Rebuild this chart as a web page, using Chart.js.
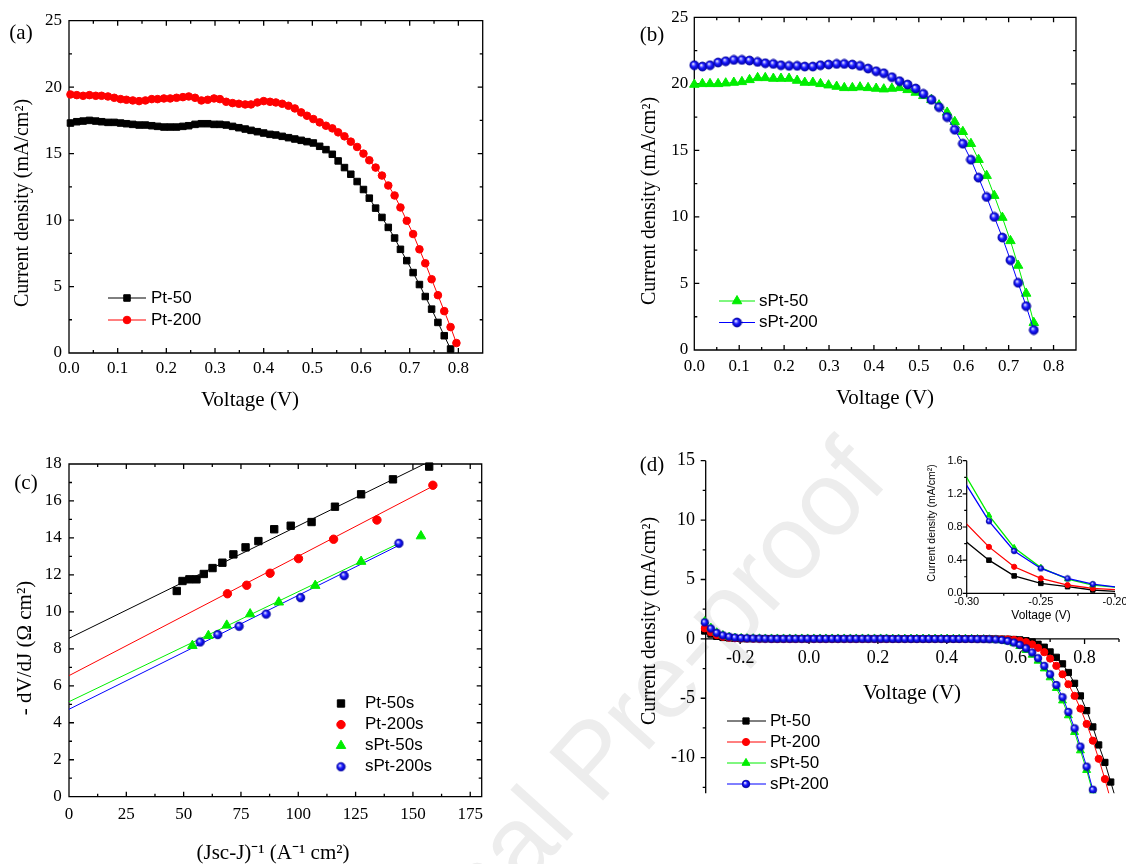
<!DOCTYPE html>
<html><head><meta charset="utf-8">
<script src="https://cdn.jsdelivr.net/npm/chart.js@4.4.1/dist/chart.umd.min.js"></script>
<style>
html,body{margin:0;padding:0;background:#fff;}
#wrap{position:relative;width:1126px;height:864px;overflow:hidden;background:#fff;}
canvas{position:absolute;}
#wm{position:absolute;left:592px;top:759px;transform:translate(-50%,-50%) rotate(-48deg);font-family:"Liberation Sans",Arial,sans-serif;font-size:105px;color:#ededed;white-space:nowrap;}
</style></head>
<body><div id="wrap">
<div id="wm">Journal Pre-proof</div>
<canvas id="ca" width="560" height="430" style="left:0px;top:0px"></canvas>
<canvas id="cb" width="506" height="430" style="left:620px;top:0px"></canvas>
<canvas id="cc" width="560" height="434" style="left:0px;top:430px"></canvas>
<canvas id="cd" width="506" height="424" style="left:620px;top:440px"></canvas>
<canvas id="ci" width="206" height="180" style="left:920px;top:450px"></canvas>
</div>
<script>
// ---------------- DATA ----------------
// (a) J-V curves, Pt electrodes
const vA = [0.003,0.016,0.029,0.042,0.055,0.067,0.080,0.093,0.106,0.118,0.131,0.144,0.157,0.170,0.182,0.195,0.208,0.221,0.234,0.246,0.259,0.272,0.285,0.298,0.310,0.323,0.336,0.349,0.362,0.374,0.387,0.400,0.413,0.425,0.438,0.451,0.464,0.477,0.489,0.502,0.515,0.528,0.541,0.553,0.566,0.579,0.592,0.605,0.617,0.630,0.643,0.656,0.669,0.681,0.694,0.707,0.720,0.732,0.745,0.758,0.771,0.784,0.796];
const jPt50 = [17.3,17.4,17.45,17.5,17.45,17.4,17.35,17.35,17.3,17.25,17.2,17.15,17.15,17.1,17.05,17.0,17.0,17.0,17.05,17.1,17.2,17.25,17.25,17.2,17.2,17.15,17.05,16.95,16.85,16.75,16.65,16.55,16.45,16.4,16.3,16.2,16.1,16.0,15.9,15.8,15.55,15.3,14.95,14.45,13.95,13.45,12.9,12.3,11.65,10.9,10.2,9.45,8.65,7.8,6.95,6.05,5.15,4.25,3.3,2.3,1.3,0.3];
const jPt200 = [19.45,19.4,19.35,19.4,19.35,19.35,19.3,19.2,19.1,19.05,19.0,18.95,19.0,19.1,19.1,19.15,19.15,19.2,19.25,19.3,19.2,19.0,19.05,19.15,19.1,18.9,18.8,18.75,18.7,18.7,18.85,18.95,18.9,18.85,18.75,18.6,18.4,18.1,17.85,17.6,17.35,17.1,16.9,16.6,16.3,15.9,15.5,15.0,14.5,13.95,13.35,12.6,11.85,10.95,9.95,8.95,7.8,6.75,5.55,4.35,3.15,1.95,0.75];
// (b) J-V curves, sPt electrodes
const vB = [0.000,0.018,0.035,0.053,0.070,0.088,0.106,0.123,0.141,0.158,0.176,0.193,0.211,0.229,0.246,0.264,0.281,0.299,0.317,0.334,0.352,0.369,0.387,0.405,0.422,0.440,0.457,0.475,0.493,0.510,0.528,0.545,0.563,0.580,0.598,0.616,0.633,0.651,0.668,0.686,0.704,0.721,0.739,0.756];
const jSPt50 = [19.95,20.0,20.0,20.0,20.05,20.1,20.15,20.3,20.45,20.45,20.4,20.4,20.4,20.25,20.1,20.1,20.0,19.9,19.8,19.7,19.7,19.75,19.7,19.65,19.6,19.65,19.7,19.55,19.35,19.1,18.8,18.4,17.85,17.15,16.4,15.5,14.3,13.1,11.6,9.95,8.2,6.35,4.25,2.05];
const jSPt200 = [21.4,21.3,21.4,21.6,21.7,21.8,21.8,21.75,21.65,21.55,21.5,21.4,21.35,21.35,21.3,21.3,21.4,21.45,21.5,21.5,21.45,21.35,21.15,20.95,20.8,20.5,20.2,19.95,19.65,19.25,18.8,18.25,17.5,16.55,15.5,14.3,12.95,11.5,10.0,8.45,6.75,5.05,3.3,1.5];
// (c) -dV/dJ vs (Jsc-J)^-1
const cPt50X = [47.0,49.5,52.5,55.6,58.8,62.6,66.9,71.7,77.0,82.6,89.5,96.7,105.8,116.0,127.4,141.3,157.1];
const cPt50Y = [11.13,11.67,11.76,11.76,12.05,12.37,12.66,13.11,13.49,13.83,14.47,14.66,14.86,15.69,16.36,17.17,17.86];
const cPt200X = [69.1,77.5,87.7,100.1,115.4,134.3,158.7];
const cPt200Y = [10.98,11.44,12.09,12.88,13.93,14.97,16.85];
const cSPt50X = [53.8,60.8,68.8,79.0,91.5,107.4,127.4,153.5];
const cSPt50Y = [8.17,8.71,9.27,9.88,10.52,11.42,12.72,14.1];
const cSPt200X = [57.2,64.9,74.2,86.0,101.0,120.0,143.9];
const cSPt200Y = [8.37,8.77,9.22,9.88,10.77,11.96,13.71];
// (c) linear fits (end points)
const fitPt50X = [0,157.1],  fitPt50Y = [8.57,18.13];
const fitPt200X = [0,158.7], fitPt200Y = [6.55,16.8];
const fitSPt50X = [0,145],   fitSPt50Y = [5.14,13.77];
const fitSPt200X = [0,143.9],fitSPt200Y = [4.73,13.6];
// (d) dark J-V curves
const vD = [-0.303,-0.285,-0.268,-0.250,-0.232,-0.215,-0.197,-0.180,-0.162,-0.144,-0.127,-0.109,-0.092,-0.074,-0.056,-0.039,-0.021,-0.004,0.014,0.032,0.049,0.067,0.084,0.102,0.120,0.137,0.155,0.172,0.190,0.208,0.225,0.243,0.260,0.278,0.296,0.313,0.331,0.348,0.366,0.384,0.401,0.419,0.436,0.454,0.472,0.489,0.507,0.524,0.542,0.560,0.577,0.595,0.612,0.630,0.648,0.665,0.683,0.700,0.718,0.736,0.753,0.771,0.788,0.806,0.824,0.841,0.859,0.876,0.894];
const dPt50 = [0.66,0.40,0.21,0.12,0.08,0.04,0.02,0.01,0.01,0.01,0.01,
 0,0,0,0,0,0,0,0,0,0, 0,0,0,0,0,0,0,0,0,0, 0,0,0,0,0,0,0,0,0,0, 0,0,0,0,0,0,0,
 -0.01,-0.02,-0.03,-0.05,-0.08,-0.15,-0.26,-0.45,-0.7,-1.1,-1.55,-2.1,-2.83,-3.74,-4.8,-6.04,-7.41,-8.93,-10.4,-12.05,-13.8];
const dPt200 = [0.89,0.56,0.32,0.18,0.10,0.06,0.04,0.03,0.02,0.01,0.01,
 0,0,0,0,0,0,0,0,0,0, 0,0,0,0,0,0,0,0,0,0, 0,0,0,0,0,0,0,0,0,0, 0,0,0,0,0,0,
 -0.01,-0.02,-0.03,-0.04,-0.08,-0.16,-0.28,-0.47,-0.75,-1.12,-1.66,-2.27,-2.98,-3.82,-4.8,-5.87,-7.16,-8.57,-10.1,-11.8,-13.6];
const dSPt50 = [1.49,0.94,0.55,0.31,0.17,0.10,0.07,0.05,0.04,0.04,0.03,
 0.03,0.03,0.03,0.03,0.03,0.03,0.03,0.03,0.03,0.03, 0.03,0.03,0.03,0.03,0.03,0.03,0.03,0.03,0.03,0.03,
 0.02,0.02,0.02,0.02,0.02,0.02,0.02,0.02,0.02,0.02, 0.01,0.01,0.01,
 0,-0.02,-0.03,-0.05,-0.08,-0.13,-0.22,-0.38,-0.62,-0.95,-1.35,-1.85,-2.5,-3.25,-4.15,-5.2,-6.45,-7.85,-9.4,-11.05,-12.95,-14.9];
const dSPt200 = [1.39,0.87,0.51,0.30,0.18,0.11,0.07,0.05,0.04,0.03,0.02,
 0.01,0.01,0.01,0.01,0.01,0.01,0.01,0.01,0.01,0.01, 0.01,0.01,0.01,0.01,0.01,0.01,0.01,0.01,0.01,0.01,
 0,0,0,0,0,0,0,0,0, -0.01,-0.01,-0.01,-0.01,-0.01,
 -0.02,-0.02,-0.03,-0.05,-0.09,-0.17,-0.31,-0.5,-0.79,-1.15,-1.63,-2.27,-2.98,-3.88,-4.91,-6.15,-7.53,-9.07,-10.75,-12.7,-14.7];
// tick labels
const xTicksA = [0,0.1,0.2,0.3,0.4,0.5,0.6,0.7,0.8];
const yTicksA = [0,5,10,15,20,25];
const xTicksC = [0,25,50,75,100,125,150,175];
const yTicksC = [0,2,4,6,8,10,12,14,16,18];
const xTicksD = [-0.2,0,0.2,0.4,0.6,0.8];
const yTicksD = [-10,-5,0,5,10,15];
const xTicksIn = [-0.3,-0.25,-0.2];
const yTicksIn = [0,0.4,0.8,1.2,1.6];
// series names
const namesJV = ['Pt-50','Pt-200','sPt-50','sPt-200'];
const namesC = ['Pt-50s','Pt-200s','sPt-50s','sPt-200s'];

// ---------------- HELPERS ----------------
const SERIF = '"Liberation Serif","Times New Roman",serif';
const SANS = '"Liberation Sans",Arial,sans-serif';
Chart.defaults.font.family = SERIF;
Chart.defaults.color = '#000';
const GREEN = '#00ee00', BLUE = '#0000ff', RED = '#ff0000', BLACK = '#000000';

function pts(xs, ys){ return ys.map((y,i)=>({x:xs[i], y:y})); }
function minors(major, min, max){
  const st = major[1]-major[0], out=[];
  for (let v = major[0]-st/2; v <= max+1e-9; v += st) if (v >= min-1e-9) out.push(+v.toFixed(6));
  return out;
}
function sphere(r){
  const s = Math.ceil(2*r+2), c = document.createElement('canvas');
  c.width = s; c.height = s;
  const g = c.getContext('2d'), cx = s/2, cy = s/2;
  const grd = g.createRadialGradient(cx-r*0.3, cy-r*0.35, r*0.05, cx, cy, r);
  grd.addColorStop(0,'#ffffff'); grd.addColorStop(0.22,'#9090ff'); grd.addColorStop(0.5,'#1a1aff'); grd.addColorStop(1,'#0000b0');
  g.fillStyle = grd; g.beginPath(); g.arc(cx,cy,r,0,Math.PI*2); g.fill();
  g.strokeStyle = '#0000a0'; g.lineWidth = 0.8; g.stroke();
  return c;
}
function ds(label, data, style, color, r, opts){
  return Object.assign({
    label: label, data: data, borderColor: color, backgroundColor: color,
    pointBackgroundColor: color, pointBorderColor: color, pointBorderWidth: 1,
    pointStyle: style, pointRadius: r, borderWidth: 1, showLine: true, tension: 0, clip: false
  }, opts||{});
}
function xScale(o){
  return {
    type:'linear', position: o.position||'bottom', min:o.min, max:o.max,
    grid:{display:false, drawTicks:false}, border:{display:false},
    ticks:{padding:o.pad, font:o.font, color:'#000', maxRotation:0, autoSkip:false, callback:o.fmt},
    afterBuildTicks: sc => { sc.ticks = o.ticks.map(v=>({value:v})); },
    afterFit: sc => { sc.height = o.h; sc.paddingLeft = 0; sc.paddingRight = 0; },
    title:{display:false}
  };
}
function yScale(o){
  return {
    type:'linear', position:'left', min:o.min, max:o.max,
    grid:{display:false, drawTicks:false}, border:{display:false},
    ticks:{padding:o.pad, font:o.font, color:'#000', autoSkip:false, callback:o.fmt},
    afterBuildTicks: sc => { sc.ticks = o.ticks.map(v=>({value:v})); },
    afterFit: sc => { sc.width = o.w; sc.paddingTop = 0; sc.paddingBottom = 0; },
    title:{display:false}
  };
}
function drawMarker(ctx, d, x, y){
  const st = d.pointStyle, r = d.pointRadius;
  ctx.save();
  ctx.fillStyle = d.pointBackgroundColor; ctx.strokeStyle = d.pointBorderColor; ctx.lineWidth = d.pointBorderWidth;
  if (st instanceof HTMLCanvasElement) { ctx.drawImage(st, x-st.width/2, y-st.height/2); }
  else if (st === 'rect') { const s = r*Math.SQRT1_2; ctx.beginPath(); ctx.rect(x-s,y-s,2*s,2*s); ctx.fill(); ctx.stroke(); }
  else if (st === 'triangle') { ctx.beginPath(); ctx.moveTo(x, y-r); ctx.lineTo(x+0.866*r, y+0.5*r); ctx.lineTo(x-0.866*r, y+0.5*r); ctx.closePath(); ctx.fill(); ctx.stroke(); }
  else { ctx.beginPath(); ctx.arc(x,y,r,0,Math.PI*2); ctx.fill(); ctx.stroke(); }
  ctx.restore();
}

// per-canvas extra drawing configuration (page coordinates)
const EXTRA = {};

const framePlug = {
  id:'frameTicks',
  beforeDatasetsDraw(chart){
    const cfg = EXTRA[chart.canvas.id]; if (!cfg || !cfg.frame) return;
    const f = cfg.frame, ctx = chart.ctx, a = chart.chartArea, xs = chart.scales.x, ys = chart.scales.y;
    const L=a.left, R=a.right, T=a.top, B=a.bottom;
    ctx.save(); ctx.strokeStyle = '#000'; ctx.lineWidth = f.lw;
    ctx.beginPath();
    const y0 = (f.xAt !== undefined) ? ys.getPixelForValue(f.xAt) : B;
    if (f.box) { ctx.rect(L,T,R-L,B-T); }
    else { ctx.moveTo(L,T); ctx.lineTo(L,B); ctx.moveTo(L,y0); ctx.lineTo(R,y0); }
    const xm = [[f.xMajor,f.maj],[f.xMinor,f.min]], ym = [[f.yMajor,f.maj],[f.yMinor,f.min]];
    for (const [vals,len] of xm) for (const v of vals) {
      const p = xs.getPixelForValue(v);
      if (f.box) { ctx.moveTo(p,B); ctx.lineTo(p,B-len); ctx.moveTo(p,T); ctx.lineTo(p,T+len); }
      else { ctx.moveTo(p,y0); ctx.lineTo(p,y0+len); }
    }
    for (const [vals,len] of ym) for (const v of vals) {
      const p = ys.getPixelForValue(v);
      if (f.box) { ctx.moveTo(L,p); ctx.lineTo(L+len,p); ctx.moveTo(R,p); ctx.lineTo(R-len,p); }
      else { ctx.moveTo(L,p); ctx.lineTo(L-len,p); }
    }
    ctx.stroke(); ctx.restore();
  }
};
const extraPlug = {
  id:'extraText',
  afterDraw(chart){
    const cfg = EXTRA[chart.canvas.id]; if (!cfg) return;
    const ctx = chart.ctx, ox = cfg.ox, oy = cfg.oy;
    if (cfg.legend) {
      const g = cfg.legend;
      ctx.save(); ctx.font = g.font; ctx.textBaseline = 'middle'; ctx.textAlign = 'left';
      g.items.forEach((di, i) => {
        const d = chart.data.datasets[di], y = g.y + i*g.dy - oy;
        if (g.line) { ctx.strokeStyle = d.borderColor; ctx.lineWidth = d.borderWidth; ctx.beginPath(); ctx.moveTo(g.x0-ox, y); ctx.lineTo(g.x1-ox, y); ctx.stroke(); }
        drawMarker(ctx, d, g.mx-ox, y);
        ctx.fillStyle = '#000'; ctx.fillText(d.label, g.tx-ox, y);
      });
      ctx.restore();
    }
    (cfg.texts||[]).forEach(t => {
      ctx.save(); ctx.font = t.font; ctx.fillStyle = '#000'; ctx.textAlign = 'center'; ctx.textBaseline = 'middle';
      ctx.translate(t.x-ox, t.y-oy); if (t.rot) ctx.rotate(t.rot);
      ctx.fillText(t.text, 0, 0); ctx.restore();
    });
  }
};
Chart.register(framePlug, extraPlug);

const F17 = {family:SERIF, size:17};
const F18 = {family:SERIF, size:18};
const TF = '21px ' + SERIF, TFY = '20px ' + SERIF;
const LF = '17px ' + SANS;
const ROT = -Math.PI/2;
const base = {responsive:false, animation:false, devicePixelRatio:1, events:[],
  plugins:{legend:{display:false}, tooltip:{enabled:false}}};

// ---------------- (a) ----------------
EXTRA.ca = { ox:0, oy:0,
  frame:{box:true, lw:1.3, maj:5, min:3, xMajor:xTicksA, xMinor:minors(xTicksA,0,0.85), yMajor:yTicksA, yMinor:minors(yTicksA,0,25)},
  legend:{font:LF, line:true, x0:108, x1:146, mx:127, tx:151, y:298, dy:22, items:[0,1]},
  texts:[{text:'(a)', x:21, y:33, font:TF},
         {text:'Voltage (V)', x:250, y:400, font:TF},
         {text:'Current density (mA/cm\u00B2)', x:23, y:203, rot:ROT, font:TFY}]
};
new Chart(document.getElementById('ca'), {type:'line',
  data:{datasets:[
    ds(namesJV[0], pts(vA,jPt50), 'rect', BLACK, 4.6, {order:0}),
    ds(namesJV[1], pts(vA,jPt200), 'circle', RED, 3.8, {order:-1})
  ]},
  options:Object.assign({}, base, {
    layout:{padding:{top:20.7, right:77.3, left:0, bottom:0}},
    scales:{
      x: xScale({min:0, max:0.85, ticks:xTicksA, pad:5, font:F17, h:77, fmt:v=>v.toFixed(1)}),
      y: yScale({min:0, max:25, ticks:yTicksA, pad:7, font:F17, w:69, fmt:v=>String(v)})
    }})
});

// ---------------- (b) ----------------
const sphB = sphere(4.5);
EXTRA.cb = { ox:620, oy:0,
  frame:{box:true, lw:1.3, maj:5, min:3, xMajor:xTicksA, xMinor:minors(xTicksA,0,0.85), yMajor:yTicksA, yMinor:minors(yTicksA,0,25)},
  legend:{font:LF, line:true, x0:719, x1:755, mx:737, tx:759, y:301, dy:21.5, items:[0,1]},
  texts:[{text:'(b)', x:652, y:35, font:TF},
         {text:'Voltage (V)', x:885, y:398, font:TF},
         {text:'Current density (mA/cm\u00B2)', x:650, y:201, rot:ROT, font:TFY}]
};
new Chart(document.getElementById('cb'), {type:'line',
  data:{datasets:[
    ds(namesJV[2], pts(vB,jSPt50), 'triangle', GREEN, 5.5, {order:0}),
    ds(namesJV[3], pts(vB,jSPt200), sphB, BLUE, 4.5, {order:-1})
  ]},
  options:Object.assign({}, base, {
    layout:{padding:{top:17.3, right:50, left:0, bottom:0}},
    scales:{
      x: xScale({min:0, max:0.85, ticks:xTicksA, pad:6.5, font:F17, h:80, fmt:v=>v.toFixed(1)}),
      y: yScale({min:0, max:25, ticks:yTicksA, pad:6, font:F17, w:74.3, fmt:v=>String(v)})
    }})
});

// ---------------- (c) ----------------
const sphC = sphere(4.2);
EXTRA.cc = { ox:0, oy:430,
  frame:{box:true, lw:1.3, maj:5, min:3, xMajor:xTicksC, xMinor:minors(xTicksC,0,180), yMajor:yTicksC, yMinor:minors(yTicksC,0,18)},
  legend:{font:LF, line:false, mx:341, tx:365, y:703.5, dy:21.1, items:[0,1,2,3]},
  texts:[{text:'(c)', x:26, y:483, font:TF},
         {text:'(Jsc-J)\u207B\u00B9 (A\u207B\u00B9 cm\u00B2)', x:273, y:853, font:TF},
         {text:'- dV/dJ (\u03A9 cm\u00B2)', x:25, y:648, rot:ROT, font:TF}]
};
new Chart(document.getElementById('cc'), {type:'line',
  data:{datasets:[
    ds(namesC[0], pts(cPt50X,cPt50Y), 'rect', BLACK, 5.2, {showLine:false, order:0}),
    ds(namesC[1], pts(cPt200X,cPt200Y), 'circle', RED, 4.2, {showLine:false, order:0}),
    ds(namesC[2], pts(cSPt50X,cSPt50Y), 'triangle', GREEN, 5.5, {showLine:false, order:0}),
    ds(namesC[3], pts(cSPt200X,cSPt200Y), sphC, BLUE, 4.2, {showLine:false, order:-1}),
    ds('fit1', pts(fitPt50X,fitPt50Y), 'circle', BLACK, 0, {clip:0, order:2}),
    ds('fit2', pts(fitPt200X,fitPt200Y), 'circle', RED, 0, {clip:0, order:2}),
    ds('fit3', pts(fitSPt50X,fitSPt50Y), 'circle', GREEN, 0, {clip:0, order:2}),
    ds('fit4', pts(fitSPt200X,fitSPt200Y), 'circle', BLUE, 0, {clip:0, order:2})
  ]},
  options:Object.assign({}, base, {
    layout:{padding:{top:34, right:78.3, left:0, bottom:0}},
    scales:{
      x: xScale({min:0, max:180, ticks:xTicksC, pad:8, font:F17, h:67.3, fmt:v=>String(v)}),
      y: yScale({min:0, max:18, ticks:yTicksC, pad:7.3, font:F17, w:69, fmt:v=>String(v)})
    }})
});

// ---------------- (d) ----------------
const sphD = sphere(3.8);
EXTRA.cd = { ox:620, oy:440,
  frame:{box:false, xAt:0, lw:1.3, maj:5, min:3, xMajor:xTicksD, xMinor:minors(xTicksD,-0.3,0.9), yMajor:yTicksD, yMinor:minors(yTicksD,-13,15)},
  legend:{font:LF, line:true, x0:727, x1:766, mx:746, tx:770, y:721, dy:21, items:[0,1,2,3]},
  texts:[{text:'(d)', x:652, y:465, font:TF},
         {text:'Voltage (V)', x:912, y:693, font:TF},
         {text:'Current density (mA/cm\u00B2)', x:650, y:621, rot:ROT, font:TFY}]
};
const clipD = {left:5, top:5, right:5, bottom:0};
new Chart(document.getElementById('cd'), {type:'line',
  data:{datasets:[
    ds(namesJV[0], pts(vD,dPt50), 'rect', BLACK, 4.4, {clip:clipD, order:0}),
    ds(namesJV[1], pts(vD,dPt200), 'circle', RED, 3.6, {clip:clipD, order:-1}),
    ds(namesJV[2], pts(vD,dSPt50), 'triangle', GREEN, 4.6, {clip:clipD, order:-2}),
    ds(namesJV[3], pts(vD,dSPt200), sphD, BLUE, 3.8, {clip:clipD, order:-3})
  ]},
  options:Object.assign({}, base, {
    layout:{padding:{top:20.7, right:7, left:0, bottom:70.7}},
    scales:{
      x: xScale({position:{y:0}, min:-0.3, max:0.9, ticks:xTicksD, pad:9, font:F18, h:0, fmt:v=>v.toFixed(1)}),
      y: yScale({min:-13, max:15, ticks:yTicksD, pad:10.7, font:F18, w:85.7, fmt:v=>String(v)})
    }})
});

// ---------------- (d) inset ----------------
const sphI = sphere(2.8);
EXTRA.ci = { ox:920, oy:450,
  frame:{box:false, lw:1.2, maj:4, min:2.5, xMajor:xTicksIn, xMinor:minors(xTicksIn,-0.3,-0.2), yMajor:yTicksIn, yMinor:minors(yTicksIn,0,1.6)},
  texts:[{text:'Voltage (V)', x:1041, y:616, font:'12px '+SANS},
         {text:'Current density (mA/cm\u00B2)', x:932, y:523, rot:ROT, font:'10.5px '+SANS}]
};
const FI = {family:SANS, size:11};
new Chart(document.getElementById('ci'), {type:'line',
  data:{datasets:[
    ds(namesJV[0], pts(vD,dPt50), 'rect', BLACK, 3.2, {clip:0, order:0, borderWidth:1.3}),
    ds(namesJV[1], pts(vD,dPt200), 'circle', RED, 2.6, {clip:0, order:-1, borderWidth:1.3}),
    ds(namesJV[2], pts(vD,dSPt50), 'triangle', GREEN, 3.4, {clip:0, order:-2, borderWidth:1.3}),
    ds(namesJV[3], pts(vD,dSPt200), sphI, BLUE, 2.8, {clip:0, order:-3, borderWidth:1.3})
  ]},
  options:Object.assign({}, base, {
    layout:{padding:{top:10.7, right:11, left:0, bottom:0}},
    scales:{
      x: xScale({min:-0.3, max:-0.2, ticks:xTicksIn, pad:2, font:FI, h:36.7, fmt:v=>v.toFixed(2)}),
      y: yScale({min:0, max:1.6, ticks:yTicksIn, pad:4, font:FI, w:46.7, fmt:v=>v.toFixed(1)})
    }})
});
</script>
</body></html>
